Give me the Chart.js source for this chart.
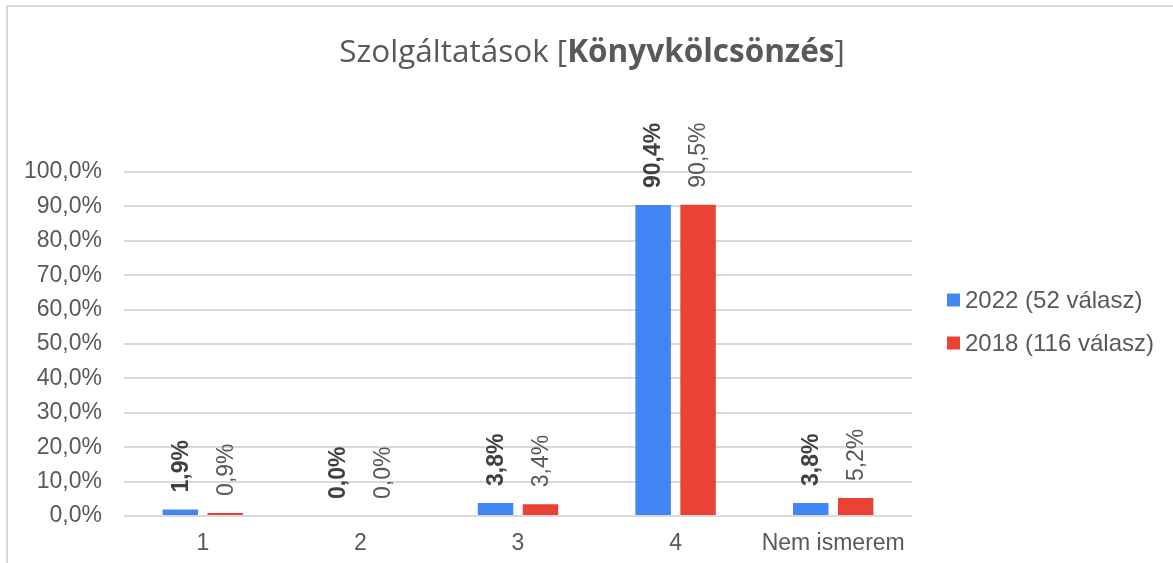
<!DOCTYPE html>
<html>
<head>
<meta charset="utf-8">
<script src="https://cdn.jsdelivr.net/npm/chart.js@4/dist/chart.umd.min.js"></script>
<style>
    html, body { margin: 0; padding: 0; background: #ffffff; }
    #wrap { position: relative; width: 1173px; height: 563px; overflow: hidden; }
    #frame {
        position: absolute; left: 6px; top: 5px; width: 1200px; height: 600px;
        border-top: 2px solid #d9d9d9; border-left: 2px solid #d9d9d9;
    }
    canvas { position: absolute; left: 0; top: 0; }
</style>
</head>
<body>
<div id="wrap">
    <div id="frame"></div>
    <canvas id="chart" width="1173" height="563"></canvas>
</div>
<script>
const categories = ['1', '2', '3', '4', 'Nem ismerem'];
const values2022 = [1.9, 0.0, 3.8, 90.4, 3.8];
const values2018 = [0.9, 0.0, 3.4, 90.5, 5.2];
const seriesNames = ['2022 (52 válasz)', '2018 (116 válasz)'];
const titleParts = ['Szolgáltatások [', 'Könyvkölcsönzés', ']'];

const BLUE = '#4285f4';
const RED = '#ea4335';
const TEXT = '#595959';
const FONT = '"Liberation Sans", Arial, sans-serif';

function pct(v) {
    return v.toFixed(1).replace('.', ',') + '%';
}

// title with bold middle part
const titlePlugin = {
    id: 'mixedTitle',
    afterDraw(chart) {
        const ctx = chart.ctx;
        ctx.save();
        const normal = '400 31.5px "Open Sans", sans-serif';
        const bold = '700 31.5px "Open Sans", sans-serif';
        const fonts = [normal, bold, normal];
        let total = 0;
        const widths = titleParts.map((t, i) => {
            ctx.font = fonts[i];
            const w = ctx.measureText(t).width;
            total += w;
            return w;
        });
        let x = 592 - total / 2;
        ctx.fillStyle = TEXT;
        ctx.textBaseline = 'alphabetic';
        ctx.textAlign = 'left';
        titleParts.forEach((t, i) => {
            ctx.font = fonts[i];
            ctx.fillText(t, x, 62);
            x += widths[i];
        });
        ctx.restore();
    }
};

// rotated value labels above bars
const labelPlugin = {
    id: 'barLabels',
    afterDatasetsDraw(chart) {
        const ctx = chart.ctx;
        ctx.save();
        chart.data.datasets.forEach((ds, di) => {
            const meta = chart.getDatasetMeta(di);
            ctx.font = (di === 0 ? 'bold ' : '') + '23px ' + FONT;
            ctx.fillStyle = di === 0 ? '#404040' : TEXT;
            meta.data.forEach((bar, i) => {
                ctx.save();
                ctx.translate(bar.x, bar.y - 17);
                ctx.rotate(-Math.PI / 2);
                ctx.textAlign = 'left';
                ctx.textBaseline = 'middle';
                ctx.fillText(pct(ds.data[i]), 0, 1);
                ctx.restore();
            });
        });
        ctx.restore();
    }
};

// legend on the right
const legendPlugin = {
    id: 'sideLegend',
    afterDraw(chart) {
        const ctx = chart.ctx;
        ctx.save();
        ctx.font = '24px ' + FONT;
        ctx.textBaseline = 'middle';
        ctx.textAlign = 'left';
        chart.data.datasets.forEach((ds, di) => {
            const y = 300 + di * 43;
            ctx.fillStyle = ds.backgroundColor;
            ctx.fillRect(947, y - 6.5, 13, 13);
            ctx.fillStyle = TEXT;
            ctx.fillText(ds.label, 965, y + 1);
        });
        ctx.restore();
    }
};

new Chart(document.getElementById('chart'), {
    type: 'bar',
    data: {
        labels: categories,
        datasets: [
            {
                label: seriesNames[0],
                data: values2022,
                backgroundColor: BLUE,
                categoryPercentage: 0.57,
                barPercentage: 0.79
            },
            {
                label: seriesNames[1],
                data: values2018,
                backgroundColor: RED,
                categoryPercentage: 0.57,
                barPercentage: 0.79
            }
        ]
    },
    options: {
        responsive: false,
        animation: false,
        devicePixelRatio: 1,
        layout: {
            padding: { left: 0, top: 172, right: 261, bottom: 0 }
        },
        plugins: {
            legend: { display: false },
            title: { display: false },
            tooltip: { enabled: false }
        },
        scales: {
            x: {
                afterFit(scale) { scale.height = 47; },
                grid: { display: false, drawTicks: false },
                border: { display: false },
                ticks: {
                    color: TEXT,
                    font: { family: FONT, size: 23 },
                    padding: 14,
                    maxRotation: 0,
                    autoSkip: false
                }
            },
            y: {
                min: 0,
                max: 100,
                afterFit(scale) { scale.width = 124; },
                grid: { color: '#d9d9d9', lineWidth: 2, drawTicks: false },
                border: { display: false },
                ticks: {
                    stepSize: 10,
                    color: TEXT,
                    font: { family: FONT, size: 23 },
                    padding: 22,
                    callback: function (value) {
                        return pct(value);
                    }
                }
            }
        }
    },
    plugins: [titlePlugin, labelPlugin, legendPlugin]
});
</script>
</body>
</html>
